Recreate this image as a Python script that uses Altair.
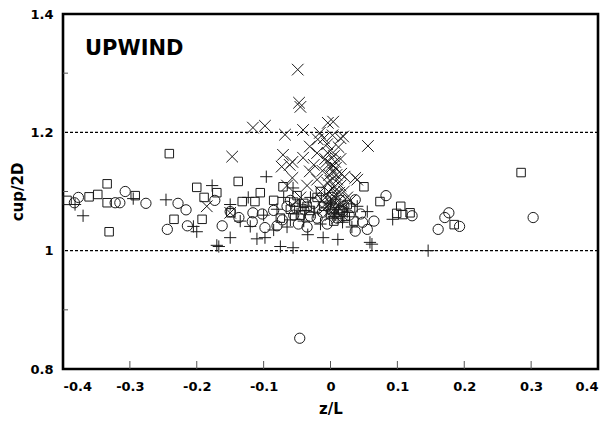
import altair as alt
import pandas as pd

# ---- data ----
circle_x = [-0.383, -0.377, -0.322, -0.315, -0.307, -0.276, -0.228, -0.216, -0.244, -0.214,
            -0.173, -0.162, -0.137, -0.117, -0.116, -0.098, -0.102, -0.085, -0.072, -0.065,
            -0.055, -0.048, -0.040, -0.030, -0.025, -0.046, -0.012, 0.005, 0.010, 0.020,
            0.028, 0.037, 0.045, 0.037, 0.055, 0.048, 0.083, 0.122, 0.177, 0.171,
            0.193, 0.161, 0.303, -0.150, -0.080, -0.060, -0.035, 0.015, -0.005, 0.065,
            -0.052, -0.020, 0.002, 0.018]
circle_y = [1.081, 1.090, 1.081, 1.081, 1.100, 1.080, 1.080, 1.069, 1.036, 1.042,
            1.085, 1.042, 1.056, 1.049, 1.064, 1.039, 1.062, 1.068, 1.052, 1.075,
            1.060, 1.045, 1.070, 1.058, 1.080, 0.852, 1.065, 1.070, 1.055, 1.075,
            1.060, 1.086, 1.062, 1.033, 1.036, 1.048, 1.093, 1.059, 1.064, 1.056,
            1.041, 1.036, 1.056, 1.066, 1.042, 1.085, 1.040, 1.085, 1.045, 1.050,
            1.072, 1.055, 1.090, 1.066]

square_x = [-0.394, -0.361, -0.348, -0.334, -0.334, -0.331, -0.292, -0.241, -0.234, -0.200,
            -0.189, -0.192, -0.170, -0.138, -0.132, -0.113, -0.149, -0.105, -0.071, -0.050,
            -0.040, -0.060, -0.030, -0.020, -0.010, 0.000, 0.008, 0.015, 0.022, 0.030,
            0.050, 0.074, 0.105, 0.099, 0.108, 0.119, 0.185, 0.285, -0.085, -0.075,
            -0.045, 0.005, 0.035, -0.015, -0.055, -0.035, 0.012, 0.025]
square_y = [1.085, 1.091, 1.095, 1.113, 1.081, 1.032, 1.093, 1.164, 1.053, 1.107,
            1.090, 1.053, 1.098, 1.117, 1.083, 1.083, 1.064, 1.098, 1.108, 1.093,
            1.080, 1.070, 1.068, 1.090, 1.075, 1.062, 1.080, 1.068, 1.058, 1.072,
            1.108, 1.083, 1.075, 1.063, 1.061, 1.064, 1.044, 1.132, 1.085, 1.055,
            1.060, 1.050, 1.050, 1.100, 1.082, 1.075, 1.062, 1.078]

plus_x = [-0.382, -0.370, -0.295, -0.246, -0.200, -0.177, -0.170, -0.205, -0.167, -0.150,
          -0.123, -0.120, -0.096, -0.098, -0.100, -0.075, -0.056, -0.060, -0.056, -0.034,
          -0.011, 0.011, 0.055, 0.059, 0.062, 0.093, 0.146, -0.080, -0.065, -0.045,
          -0.040, -0.025, -0.015, 0.000, 0.005, 0.012, 0.018, 0.025, 0.032, -0.085,
          -0.110, -0.135, -0.150, -0.070, -0.030, 0.040, -0.050, -0.038, 0.008, 0.020]
plus_y = [1.078, 1.059, 1.088, 1.086, 1.032, 1.110, 1.009, 1.041, 1.007, 1.078,
          1.090, 1.041, 1.125, 1.022, 1.060, 1.007, 1.005, 1.052, 1.106, 1.027,
          1.022, 1.019, 1.066, 1.014, 1.011, 1.053, 1.000, 1.070, 1.040, 1.075,
          1.050, 1.065, 1.045, 1.080, 1.058, 1.070, 1.048, 1.065, 1.040, 1.035,
          1.020, 1.050, 1.022, 1.090, 1.090, 1.075, 1.062, 1.068, 1.064, 1.058]

cross_x = [-0.049, -0.047, -0.045, -0.116, -0.098, -0.068, -0.041, -0.004, 0.004, 0.019,
           0.056, -0.071, -0.061, -0.073, -0.041, -0.031, -0.019, -0.016, 0.040, 0.021,
           -0.057, -0.031, -0.147, 0.037, -0.057, -0.185, -0.150, -0.065,
           -0.010, -0.005, 0.000, 0.005, -0.008, 0.002, 0.008, -0.012, -0.002, 0.010,
           0.015, -0.005, 0.003, -0.015, 0.008, 0.012, -0.002, 0.000, 0.018, 0.005,
           -0.020, -0.025, -0.020, 0.012, 0.015, 0.020, 0.025, -0.010, 0.000, 0.010,
           0.030, -0.035, -0.045, 0.015,
           -0.006, 0.004, 0.000, -0.003, 0.006, 0.002, -0.008, 0.009, 0.001, -0.004,
           0.007, 0.013, -0.001, 0.003, -0.012, 0.016]
cross_y = [1.306, 1.250, 1.243, 1.208, 1.211, 1.196, 1.204, 1.216, 1.218, 1.193,
           1.177, 1.162, 1.145, 1.142, 1.157, 1.176, 1.188, 1.199, 1.120, 1.125,
           1.123, 1.134, 1.159, 1.123, 1.150, 1.075, 1.064, 1.110,
           1.190, 1.180, 1.170, 1.160, 1.155, 1.145, 1.140, 1.135, 1.128, 1.120,
           1.110, 1.115, 1.105, 1.100, 1.095, 1.085, 1.090, 1.080, 1.075, 1.070,
           1.120, 1.145, 1.165, 1.175, 1.155, 1.100, 1.090, 1.070, 1.060, 1.055,
           1.085, 1.110, 1.090, 1.190,
           1.150, 1.132, 1.118, 1.100, 1.108, 1.088, 1.078, 1.128, 1.140, 1.165,
           1.150, 1.098, 1.068, 1.195, 1.085, 1.130]

ref_lines = [1.0, 1.2]
x_ticks = [-0.3, -0.2, -0.1, 0.0, 0.1, 0.2, 0.3]
y_ticks = [0.9, 1.1, 1.3]
x_labels = [-0.4, -0.3, -0.2, -0.1, 0.0, 0.1, 0.2, 0.3, 0.4]
y_labels = [0.8, 1.0, 1.2, 1.4]

FONT = "DejaVu Sans"
INK = "#1a1a1a"

xscale = alt.Scale(domain=[-0.4, 0.4], nice=False, zero=False)
yscale = alt.Scale(domain=[0.8, 1.4], nice=False, zero=False)

xaxis = alt.Axis(values=x_labels, title="z/L", grid=False, domain=False, ticks=False,
                 labelExpr="replace(format(datum.value, '~g'), '\u2212', '-')",
                 labelFont=FONT, labelFontSize=13, labelFontWeight="bold", labelColor="black",
                 labelPadding=11, titleFont=FONT, titleFontSize=15, titleFontWeight="bold",
                 titleColor="black", titlePadding=8)
yaxis = alt.Axis(values=y_labels, title="cup/2D", grid=False, domain=False, ticks=False,
                 labelExpr="replace(format(datum.value, '~g'), '\u2212', '-')",
                 labelFont=FONT, labelFontSize=13, labelFontWeight="bold", labelColor="black",
                 labelPadding=10, titleFont=FONT, titleFontSize=15, titleFontWeight="bold",
                 titleColor="black", titlePadding=4)

X = lambda f: alt.X(f, scale=xscale, axis=xaxis, title="z/L")
Y = lambda f: alt.Y(f, scale=yscale, axis=yaxis, title="cup/2D")


def series(xs, ys, shape, size):
    df = pd.DataFrame({"zL": xs, "cup": ys})
    return alt.Chart(df).mark_point(filled=False, strokeWidth=1, opacity=1,
                                    shape=shape, size=size, color=INK).encode(
        x=X("zL:Q"), y=Y("cup:Q"))


circles = series(circle_x, circle_y, "circle", 105)
squares = series(square_x, square_y, "square", 72)
pluses = series(plus_x, plus_y, "M-1,0L1,0M0,-1L0,1", 150)
crosses = series(cross_x, cross_y, "M-1,-1L1,1M-1,1L1,-1", 135)

refs = alt.Chart(pd.DataFrame({"y": ref_lines})).mark_rule(
    color="black", strokeWidth=1.4, strokeDash=[3, 2]).encode(y=Y("y:Q"))

xt = alt.Chart(pd.DataFrame({"x": x_ticks})).mark_rule(color="#555", strokeWidth=1).encode(
    x=X("x:Q"), y=alt.datum(0.8), y2=alt.datum(0.8135))

yt = alt.Chart(pd.DataFrame({"y": y_ticks})).mark_rule(color="#555", strokeWidth=1).encode(
    y=Y("y:Q"), x=alt.datum(-0.4), x2=alt.datum(-0.3925))

label = alt.Chart(pd.DataFrame({"t": ["UPWIND"]})).mark_text(
    font=FONT, fontSize=21, fontWeight="bold", color="black", align="left",
    baseline="alphabetic").encode(
    x=alt.datum(-0.367), y=alt.datum(1.331), text="t:N")

chart = alt.layer(circles, refs, xt, yt, squares, pluses, crosses, label).properties(
    width=535, height=355,
    autosize=alt.AutoSizeParams(type="none"),
    padding={"left": 63, "top": 14, "right": 18, "bottom": 56},
).configure(background="white").configure_view(stroke="black", strokeWidth=2.6)

chart.save("out.html", embed_options={"renderer": "svg", "actions": False})
